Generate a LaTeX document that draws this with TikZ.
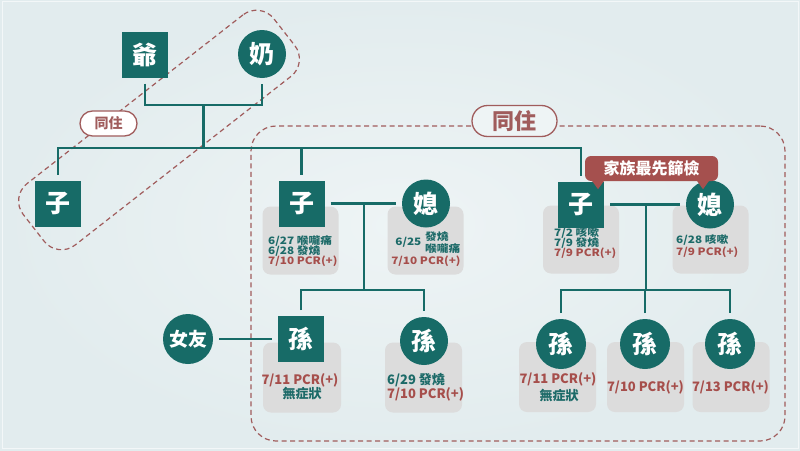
\documentclass[tikz,border=0pt]{standalone}
\usepackage{fontspec}
\setmainfont{Noto Sans CJK TC}
\newfontfamily\widecjk{Noto Sans CJK TC}[FakeStretch=1.15]
\usepackage{tikz}
\usetikzlibrary{positioning,calc}
\definecolor{famteal}{HTML}{176B67}
\definecolor{txtteal}{HTML}{1C6A68}
\definecolor{txtred}{HTML}{A64E4B}
\definecolor{zonered}{HTML}{A05C5C}
\definecolor{callred}{HTML}{A5504E}
\definecolor{boxgray}{HTML}{DCDCDC}
\definecolor{bgedge}{HTML}{E2ECEE}
\definecolor{bgmid}{HTML}{EEF4F5}
\newcommand{\pcr}[1]{#1 PCR(+)}

\begin{document}
\begin{tikzpicture}[
    x=1pt, y=-1pt,
    sqperson/.style={rectangle,fill=famteal,text=white,minimum size=46pt,inner sep=0pt,outer sep=6pt,font=\fontsize{25}{27}\selectfont\bfseries},
    rdperson/.style={circle,fill=famteal,text=white,minimum size=48pt,inner sep=0pt,outer sep=6pt,font=\fontsize{25}{27}\selectfont\bfseries},
    infobox/.style={rectangle,rounded corners=8pt,fill=boxgray,minimum width=76pt,minimum height=68pt},
    infotxt/.style={inner sep=0pt,anchor=base west,text=txtteal,font=\widecjk\fontsize{10.2}{12}\selectfont\bfseries},
    lowtxt/.style={inner sep=0pt,anchor=base,text=txtteal,font=\fontsize{13}{15}\selectfont\bfseries},
    pcrtxt/.style={text=txtred},
    famline/.style={draw=famteal,line width=2.4pt},
    zone/.style={draw=zonered,dash pattern=on 5pt off 3.5pt,line width=1.2pt},
    tagpill/.style={draw=zonered,line width=1.3pt,text=zonered,inner sep=0pt,font=\bfseries}
  ]
  \useasboundingbox (0,0) rectangle (800,450);
  \shade[inner color=bgmid,outer color=bgedge] (0,0) rectangle (800,450);
  \draw[white,opacity=0.6,line width=0.8pt] (2.5,1.5) rectangle (798,448);

  %% Dashed zones
  \node[zone,rotate=38,minimum width=318pt,minimum height=78pt,rounded corners=22pt] (zone1) at (159,130) {};
  \node[zone,minimum width=534pt,minimum height=315pt,rounded corners=25pt] (zone2) at (518,283.5) {};

  %% Info boxes
  \node[infobox] (b2) at (300.5,240.5) {};
  \node[infobox] (bw2) at (425.5,240.5) {};
  \node[infobox] (b3) at (581,239.5) {};
  \node[infobox] (bw3) at (710.5,239.5) {};
  \node[infobox,minimum width=78pt,minimum height=70pt] (bg1) at (302,377.5) {};
  \node[infobox,minimum width=77pt,minimum height=70pt] (bg2) at (423.5,377.5) {};
  \node[infobox,minimum width=77pt,minimum height=70pt] (bg3) at (557.5,377) {};
  \node[infobox,minimum width=77pt,minimum height=70pt] (bg4) at (645.5,377) {};
  \node[infobox,minimum width=77pt,minimum height=70pt] (bg5) at (731,377) {};

  %% Grandparents
  \node[sqperson] (gp) at (145,54.5) {爺};
  \node[rdperson] (gm) at (262,54) {奶};

  %% Children
  \node[sqperson] (s1) at (58,203.5) {子};
  \node[sqperson] (s2) at (301.5,203.5) {子};
  \node[rdperson] (w2) at (426,203.5) {媳};
  \node[sqperson] (s3) at (581,204.5) {子};
  \node[rdperson] (w3) at (710,204.5) {媳};

  %% Grandchildren
  \node[sqperson] (g1) at (301,339) {孫};
  \node[rdperson] (g2) at (424,341) {孫};
  \node[rdperson,minimum size=50pt,font=\fontsize{19}{21}\selectfont\bfseries] (gf) at (188,339) {女友};
  \node[rdperson,minimum size=50pt] (g3) at (561,344) {孫};
  \node[rdperson,minimum size=50pt] (g4) at (645,344) {孫};
  \node[rdperson,minimum size=50pt] (g5) at (730,344) {孫};

  %% Junctions
  \coordinate (gpj) at (203.5,105);
  \coordinate (sibj) at (203.5,148);
  \coordinate (m2j) at (364,203.5);
  \coordinate (m2k) at (364,290);
  \coordinate (r3j) at (646,204.5);
  \coordinate (r3k) at (646,290);

  %% Family lines
  \draw[famline] (gp) |- (gpj) -| (gm);
  \draw[famline] (gpj) -- (sibj);
  \draw[famline] (s1) |- (sibj) -| (s3);
  \draw[famline] (s2) -- (s2 |- sibj);
  \draw[famline] (s2) -- (w2);
  \draw[famline] (m2j) -- (m2k);
  \draw[famline] (g1) |- (m2k) -| (g2);
  \draw[famline] (s3) -- (w3);
  \draw[famline] (r3j) -- (r3k);
  \draw[famline] (g3) |- (r3k) -| (g5);
  \draw[famline] (g4) -- (g4 |- r3k);
  \draw[famline] (gf) -- (g1);

  %% Symptoms, upper row
  \node[infotxt] (t2a) at (268,244.7) {6/27 喉嚨痛};
  \node[infotxt] (t2b) at (268,254.7) {6/28 發燒};
  \node[infotxt,pcrtxt] (t2c) at (268,264.7) {\pcr{7/10}};
  \node[infotxt,anchor=base east] (tw2a) at (421.5,245.7) {6/25};
  \node[infotxt] (tw2b) at (425,240.7) {發燒};
  \node[infotxt] (tw2c) at (425,252.7) {喉嚨痛};
  \node[infotxt,pcrtxt,anchor=base] (tw2d) at (426,264.7) {\pcr{7/10}};
  \node[infotxt] (t3a) at (554,236) {7/2 咳嗽};
  \node[infotxt] (t3b) at (554,246) {7/9 發燒};
  \node[infotxt,pcrtxt] (t3c) at (554,256) {\pcr{7/9}};
  \node[infotxt] (tw3a) at (676,243) {6/28 咳嗽};
  \node[infotxt,pcrtxt] (tw3b) at (676,255.5) {\pcr{7/9}};

  %% Symptoms, lower row
  \node[lowtxt,pcrtxt] (tg1a) at (300,384.5) {\pcr{7/11}};
  \node[lowtxt] (tg1b) at (302,398.5) {無症狀};
  \node[lowtxt,anchor=base west] (tg2a) at (387,384.5) {6/29 發燒};
  \node[lowtxt,pcrtxt,anchor=base west] (tg2b) at (387,398.5) {\pcr{7/10}};
  \node[lowtxt,pcrtxt] (tg3a) at (558,383.5) {\pcr{7/11}};
  \node[lowtxt] (tg3b) at (559,400.5) {無症狀};
  \node[lowtxt,pcrtxt] (tg4) at (645.5,391.5) {\pcr{7/10}};
  \node[lowtxt,pcrtxt] (tg5) at (730.5,391.5) {\pcr{7/13}};

  %% Tags
  \node[tagpill,fill=white,minimum width=57pt,minimum height=25pt,rounded corners=12.5pt,font=\fontsize{14}{16}\selectfont\bfseries] (tag1) at (108.5,123.5) {同住};
  \node[tagpill,fill=bgmid,minimum width=85pt,minimum height=31pt,rounded corners=15.5pt,font=\fontsize{22}{24}\selectfont\bfseries] (tag2) at (514.5,121) {同住};

  %% Callout
  \node[fill=callred,text=white,rounded corners=6pt,minimum width=133pt,minimum height=25pt,inner sep=0pt,font=\fontsize{16}{18}\selectfont\bfseries] (call) at (651.5,168.5) {家族最先篩檢};
  \fill[callred] ([xshift=-60pt,yshift=1pt]call.south) -- ([xshift=-47pt,yshift=1pt]call.south) -- ([xshift=-53.5pt,yshift=-8pt]call.south) -- cycle;
  \fill[callred] ([xshift=45pt,yshift=1pt]call.south) -- ([xshift=58pt,yshift=1pt]call.south) -- ([xshift=51.5pt,yshift=-8pt]call.south) -- cycle;
\end{tikzpicture}
\end{document}
